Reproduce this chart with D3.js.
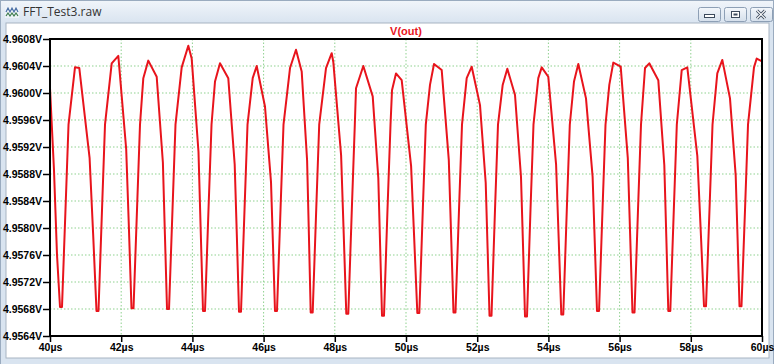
<!DOCTYPE html>
<html><head><meta charset="utf-8">
<script src="https://cdn.jsdelivr.net/npm/d3@7/dist/d3.min.js"></script>
<style>html,body{margin:0;padding:0;background:#fff;overflow:hidden}</style>
</head><body>
<svg id="chart" width="774" height="364"></svg>
<script>
const windowTitle = "FFT_Test3.raw";
const traceName = "V(out)";
const xTicks = [40, 42, 44, 46, 48, 50, 52, 54, 56, 58, 60];
const yTicks = [4.9564, 4.9568, 4.9572, 4.9576, 4.9580, 4.9584, 4.9588, 4.9592, 4.9596, 4.9600, 4.9604, 4.9608];
// time in microseconds
const timeUs = [
 40.000, 40.112, 40.197,
 40.281, 40.337, 40.435, 40.520, 40.702, 40.823, 41.112, 41.211,
 41.306, 41.362, 41.461, 41.545, 41.733, 41.919, 42.140, 42.216,
 42.289, 42.346, 42.444, 42.528, 42.621, 42.761, 42.997, 43.171, 43.228,
 43.287, 43.343, 43.441, 43.525, 43.699, 43.885, 43.980, 44.171, 44.233,
 44.298, 44.354, 44.452, 44.537, 44.635, 44.775, 45.008, 45.188, 45.250,
 45.309, 45.365, 45.464, 45.548, 45.694, 45.806, 46.039, 46.208, 46.264,
 46.320, 46.376, 46.475, 46.559, 46.742, 46.910, 47.070, 47.222, 47.273,
 47.323, 47.379, 47.478, 47.562, 47.753, 47.913, 47.958, 48.177, 48.250,
 48.323, 48.379, 48.478, 48.562, 48.596, 48.801, 49.065, 49.222, 49.273,
 49.326, 49.382, 49.480, 49.565, 49.607, 49.719, 49.879, 50.143, 50.230,
 50.318, 50.374, 50.472, 50.556, 50.674, 50.787, 51.003, 51.202, 51.267,
 51.334, 51.390, 51.489, 51.573, 51.705, 51.846, 52.079, 52.239, 52.292,
 52.346, 52.402, 52.500, 52.584, 52.716, 52.846, 53.062, 53.230, 53.287,
 53.343, 53.399, 53.497, 53.581, 53.716, 53.812, 53.997, 54.216, 54.289,
 54.362, 54.418, 54.517, 54.601, 54.719, 54.840, 55.056, 55.242, 55.303,
 55.365, 55.422, 55.520, 55.604, 55.711, 55.823, 56.031, 56.230, 56.295,
 56.362, 56.419, 56.517, 56.601, 56.714, 56.834, 57.087, 57.256, 57.312,
 57.368, 57.424, 57.523, 57.607, 57.745, 57.902, 58.183, 58.278,
 58.371, 58.427, 58.525, 58.610, 58.744, 58.885, 59.101, 59.261, 59.315,
 59.368, 59.424, 59.523, 59.607, 59.775, 59.851, 60.000
];
// voltage in volts
const voltV = [
 4.96007, 4.95886, 4.95760,
 4.95683, 4.95683, 4.95827, 4.95953, 4.96038, 4.96037, 4.95904, 4.95792,
 4.95677, 4.95677, 4.95827, 4.95953, 4.96044, 4.96055, 4.95917, 4.95801,
 4.95681, 4.95681, 4.95827, 4.95953, 4.96022, 4.96048, 4.96024, 4.95897, 4.95790,
 4.95680, 4.95680, 4.95827, 4.95953, 4.96038, 4.96070, 4.96051, 4.95913, 4.95797,
 4.95677, 4.95677, 4.95827, 4.95953, 4.96017, 4.96044, 4.96022, 4.95894, 4.95786,
 4.95676, 4.95676, 4.95827, 4.95953, 4.96022, 4.96040, 4.95980, 4.95868, 4.95774,
 4.95677, 4.95677, 4.95827, 4.95953, 4.96037, 4.96064, 4.96032, 4.95900, 4.95789,
 4.95675, 4.95675, 4.95827, 4.95953, 4.96037, 4.96059, 4.96046, 4.95908, 4.95792,
 4.95673, 4.95673, 4.95827, 4.95953, 4.96007, 4.96040, 4.95995, 4.95874, 4.95774,
 4.95670, 4.95670, 4.95827, 4.95953, 4.96004, 4.96029, 4.96019, 4.95892, 4.95785,
 4.95674, 4.95674, 4.95827, 4.95953, 4.96012, 4.96043, 4.96034, 4.95901, 4.95790,
 4.95675, 4.95675, 4.95827, 4.95953, 4.96022, 4.96039, 4.95982, 4.95867, 4.95770,
 4.95670, 4.95670, 4.95827, 4.95953, 4.96012, 4.96036, 4.95997, 4.95876, 4.95774,
 4.95669, 4.95669, 4.95827, 4.95953, 4.96022, 4.96038, 4.96024, 4.95894, 4.95784,
 4.95672, 4.95672, 4.95827, 4.95953, 4.96017, 4.96043, 4.95992, 4.95876, 4.95778,
 4.95677, 4.95677, 4.95827, 4.95953, 4.96012, 4.96045, 4.96039, 4.95904, 4.95792,
 4.95675, 4.95675, 4.95827, 4.95953, 4.96037, 4.96044, 4.96019, 4.95893, 4.95787,
 4.95677, 4.95677, 4.95827, 4.95953, 4.96034, 4.96038, 4.95907, 4.95797,
 4.95684, 4.95684, 4.95827, 4.95953, 4.96029, 4.96049, 4.95992, 4.95878, 4.95783,
 4.95684, 4.95684, 4.95827, 4.95953, 4.96038, 4.96051, 4.96047
];

const W = 774, H = 364;
const svg = d3.select("#chart");
const defs = svg.append("defs");
const tg = defs.append("linearGradient").attr("id","tbar").attr("x1",0).attr("y1",0).attr("x2",0).attr("y2",1);
tg.append("stop").attr("offset","0%").attr("stop-color","#f1f5fa");
tg.append("stop").attr("offset","100%").attr("stop-color","#d9e4f0");
const bg = defs.append("linearGradient").attr("id","btn").attr("x1",0).attr("y1",0).attr("x2",0).attr("y2",1);
bg.append("stop").attr("offset","0%").attr("stop-color","#f4f7fb");
bg.append("stop").attr("offset","100%").attr("stop-color","#d4dfeb");

// window frame
svg.append("rect").attr("x",0).attr("y",0).attr("width",W).attr("height",H).attr("fill","#d9e4f0");
svg.append("rect").attr("x",0).attr("y",0).attr("width",W).attr("height",23).attr("fill","url(#tbar)");
svg.append("rect").attr("x",0.5).attr("y",0.5).attr("width",W-1).attr("height",H).attr("fill","none").attr("stroke","#9aabbf");
// client area
svg.append("rect").attr("x",6).attr("y",23).attr("width",763).attr("height",335).attr("fill","#ffffff").attr("stroke","#a8b4c2").attr("stroke-width",1);

// title bar icon
const ic = svg.append("g").attr("transform","translate(5,6)");
ic.append("rect").attr("x",0).attr("y",0).attr("width",14).attr("height",12).attr("fill","#eef3f8");
ic.append("path").attr("d","M1,6 L3,2 L5,6 L7,2 L9,6 L11,2 L13,6").attr("fill","none").attr("stroke","#4a6fa5").attr("stroke-width",1.2);
ic.append("path").attr("d","M1,10 L3,7 L5,10 L7,7 L9,10 L11,7 L13,10").attr("fill","none").attr("stroke","#3b7a4a").attr("stroke-width",1.2);
svg.append("text").attr("x",23).attr("y",16).text(windowTitle)
  .attr("font-family","'Open Sans','Noto Sans',sans-serif").attr("font-size",12).attr("fill","#333");

// window buttons
const btnX = [698, 724, 750];
btnX.forEach((bx,i)=>{
  svg.append("rect").attr("x",bx+0.5).attr("y",7.5).attr("width",22).attr("height",14).attr("rx",2)
    .attr("fill","url(#btn)").attr("stroke","#8d9fb5");
});
svg.append("rect").attr("x",704.5).attr("y",14.5).attr("width",10).attr("height",3).attr("fill","#fff").attr("stroke","#3c4a5c");
svg.append("rect").attr("x",731.5).attr("y",11.5).attr("width",8).attr("height",6).attr("fill","#fff").attr("stroke","#3c4a5c");
svg.append("rect").attr("x",733.5).attr("y",13.5).attr("width",4).attr("height",2).attr("fill","#3c4a5c");
svg.append("path").attr("d","M757,10.5 L765,18.5 M765,10.5 L757,18.5").attr("stroke","#3c4a5c").attr("stroke-width",3);
svg.append("path").attr("d","M757,10.5 L765,18.5 M765,10.5 L757,18.5").attr("stroke","#fff").attr("stroke-width",1.2);

// plot
const L = 50, R = 762, T = 39, B = 336;
const x = d3.scaleLinear().domain([40, 60]).range([L, R]);
const y = d3.scaleLinear().domain([4.9564, 4.9608]).range([B, T]);

// grid
const grid = svg.append("g");
grid.selectAll("line.gx").data(xTicks.slice(1,-1)).enter().append("line")
  .attr("x1",d=>x(d)).attr("x2",d=>x(d)).attr("y1",T).attr("y2",B)
  .attr("stroke","#8fd18f").attr("stroke-width",1).attr("stroke-dasharray","1.5,2");
grid.selectAll("line.gy").data(yTicks.slice(1,-1)).enter().append("line")
  .attr("x1",L).attr("x2",R).attr("y1",d=>y(d)).attr("y2",d=>y(d))
  .attr("stroke","#8fd18f").attr("stroke-width",1).attr("stroke-dasharray","1.5,2");

// trace
const pts = timeUs.map((t,i)=>[t, voltV[i]]);
svg.append("path").datum(pts)
  .attr("d", d3.line().x(d=>x(d[0])).y(d=>y(d[1])))
  .attr("fill","none").attr("stroke","#e8141c").attr("stroke-width",2).attr("stroke-linejoin","round");

// axes
const fontF = "'Liberation Sans',Arial,sans-serif";
const yAxis = svg.append("g").attr("transform",`translate(${L},0)`)
  .call(d3.axisLeft(y).tickValues(yTicks).tickSize(7).tickPadding(1).tickFormat(d=>d3.format(".4f")(d)+"V"));
const xAxis = svg.append("g").attr("transform",`translate(0,${B})`)
  .call(d3.axisBottom(x).tickValues(xTicks).tickSize(6).tickPadding(2).tickFormat(d=>d+"µs"));
[yAxis, xAxis].forEach(a=>{
  a.select(".domain").remove();
  a.selectAll(".tick line").attr("stroke","#000").attr("stroke-width",1.5);
  a.selectAll(".tick text").attr("fill","#000").attr("font-family",fontF).attr("font-size",10.5).attr("font-weight","bold");
});

// frame
svg.append("rect").attr("x",L).attr("y",T).attr("width",R-L).attr("height",B-T)
  .attr("fill","none").attr("stroke","#000").attr("stroke-width",2);

// trace name
svg.append("text").attr("x",406).attr("y",35).attr("text-anchor","middle").text(traceName)
  .attr("font-family",fontF).attr("font-size",11).attr("font-weight","bold").attr("fill","#e8141c");
</script>
</body></html>
